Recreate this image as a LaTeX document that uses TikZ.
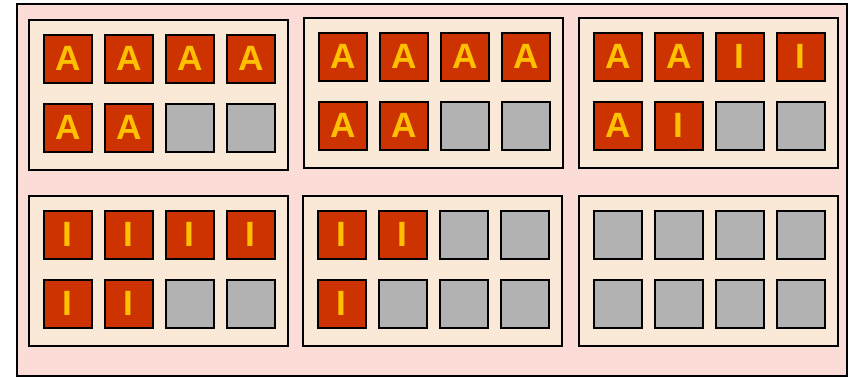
\documentclass[tikz,border=0pt]{standalone}
\usepackage{fontspec}
\setsansfont{Liberation Sans}
\usetikzlibrary{positioning,calc}
\definecolor{outerpink}{RGB}{252,220,215}
\definecolor{panelbeige}{RGB}{251,233,215}
\definecolor{cellred}{RGB}{204,51,0}
\definecolor{lettergold}{RGB}{255,192,0}
\definecolor{vacantgray}{RGB}{178,178,178}
\tikzset{
  outerbox/.style={draw=black, fill=outerpink, line width=1pt},
  panelbox/.style={draw=black, fill=panelbeige, line width=1pt, inner sep=0pt,
                   minimum width=5.18cm, minimum height=3.0cm, anchor=north west},
  cellbox/.style={draw=black, line width=1pt, inner sep=0pt, minimum size=0.96cm, anchor=north west},
  occupied/.style={cellbox, fill=cellred, text=lettergold,
                   font=\sffamily\bfseries\fontsize{20}{20}\selectfont},
  vacant/.style={cellbox, fill=vacantgray},
  cellA/.style={occupied, node contents=A},
  cellI/.style={occupied, node contents=I},
  cellX/.style={vacant, node contents={}},
}
\begin{document}
\begin{tikzpicture}[x=0.02cm, y=-0.02cm]
    \useasboundingbox (0,0) rectangle (850,377);
    \draw[outerbox] (17,4) rectangle (847,376);
    % six panels, eight cells each (X = free)
    \foreach \p/\x/\y/\cells in {tl/28/19/{A,A,A,A,A,A,X,X}, tm/303/17/{A,A,A,A,A,A,X,X},
                               tr/578/17/{A,A,I,I,A,I,X,X}, bl/28/195/{I,I,I,I,I,I,X,X},
                               bm/302/195/{I,I,X,X,I,X,X,X}, br/578/195/{X,X,X,X,X,X,X,X}}{
      \node[panelbox] (\p) at (\x,\y) {};
      \foreach \c [count=\i from 0] in \cells {
        \pgfmathtruncatemacro{\col}{mod(\i,4)}
        \pgfmathtruncatemacro{\row}{div(\i,4)}
        \node (\p-\i) [at={($(\p.north west)+(15+61*\col,15+69*\row)$)}, cell\c];
      }
    }
\end{tikzpicture}
\end{document}
